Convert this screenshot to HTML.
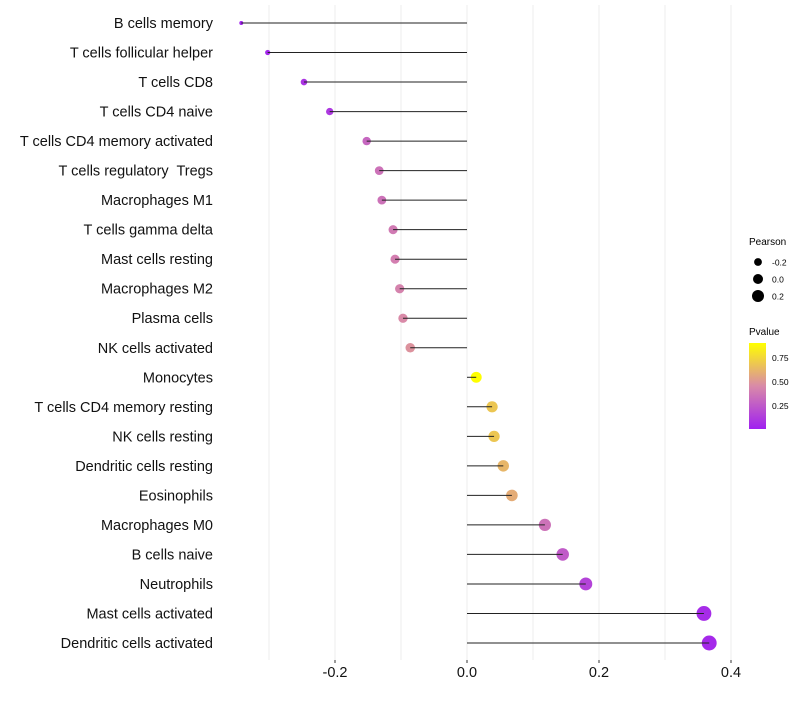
<!DOCTYPE html>
<html><head><meta charset="utf-8"><style>
body{margin:0;background:#fff;font-family:"Liberation Sans",sans-serif}
text{white-space:pre}
</style></head><body>
<svg id="chart" width="800" height="700" xmlns="http://www.w3.org/2000/svg" font-family="Liberation Sans, sans-serif">
<defs><linearGradient id="pg" x1="0" y1="1" x2="0" y2="0">
<stop offset="0" stop-color="#a020f0"/><stop offset="0.5" stop-color="#d98aa8"/><stop offset="1" stop-color="#ffff00"/></linearGradient></defs>
<g id="grid"></g><g id="marks"></g><g id="ylabels"></g><g id="xticks"></g>
<g font-size="10">
<text x="749" y="245">Pearson</text>
<circle cx="758" cy="262" r="3.9" fill="#000"/>
<text x="772" y="265.5" font-size="8.5">-0.2</text>
<circle cx="758" cy="279" r="5" fill="#000"/>
<text x="772" y="282.5" font-size="8.5">0.0</text>
<circle cx="758" cy="296" r="6" fill="#000"/>
<text x="772" y="299.5" font-size="8.5">0.2</text>
<text x="749" y="335">Pvalue</text>
<rect x="749" y="343" width="17" height="86" fill="url(#pg)"/>
<text x="772" y="361" font-size="8.5">0.75</text>
<text x="772" y="385" font-size="8.5">0.50</text>
<text x="772" y="409" font-size="8.5">0.25</text>
</g>
</svg>
<script>
const categories=["B cells memory","T cells follicular helper","T cells CD8","T cells CD4 naive","T cells CD4 memory activated","T cells regulatory  Tregs","Macrophages M1","T cells gamma delta","Mast cells resting","Macrophages M2","Plasma cells","NK cells activated","Monocytes","T cells CD4 memory resting","NK cells resting","Dendritic cells resting","Eosinophils","Macrophages M0","B cells naive","Neutrophils","Mast cells activated","Dendritic cells activated"];
const pearson=[-0.342,-0.302,-0.247,-0.208,-0.152,-0.133,-0.129,-0.112,-0.109,-0.102,-0.097,-0.086,0.014,0.038,0.041,0.055,0.068,0.118,0.145,0.180,0.359,0.367];
const pvalue=[0.01,0.03,0.08,0.1,0.3,0.35,0.35,0.38,0.4,0.42,0.45,0.48,0.9,0.68,0.68,0.62,0.58,0.35,0.25,0.15,0.05,0.04];
const xTicks=[-0.2,0,0.2,0.4];
const xTickLabels=["-0.2","0.0","0.2","0.4"];
const NS="http://www.w3.org/2000/svg";
const x=v=>467+v*660;
const y=i=>23+i*(620/21);
const r=v=>Math.sqrt(Math.max(2,28.8+73*v));
function lerp(a,b,t){return Math.round(a+(b-a)*t);}
function col(p){let t=Math.min(1,Math.max(0,p/0.9));
 const s=[[160,32,240],[217,138,168],[255,255,0]];let a,b,u;
 if(t<0.5){a=s[0];b=s[1];u=t/0.5}else{a=s[1];b=s[2];u=(t-0.5)/0.5}
 return `rgb(${lerp(a[0],b[0],u)},${lerp(a[1],b[1],u)},${lerp(a[2],b[2],u)})`;}
function mk(t,attrs,parent){const e=document.createElementNS(NS,t);for(const k in attrs)e.setAttribute(k,attrs[k]);parent.appendChild(e);return e;}
const grid=document.getElementById('grid'),marks=document.getElementById('marks'),yl=document.getElementById('ylabels'),xt=document.getElementById('xticks');
for(let v=-0.3;v<=0.45;v+=0.1){const g=mk('line',{x1:x(v),x2:x(v),y1:5,y2:660,stroke:'#ececec','stroke-width':1},grid);

}
categories.forEach((c,i)=>{
 const t=mk('text',{x:213,y:y(i)+5,'text-anchor':'end','font-size':14.5,fill:'#111'},yl);t.textContent=c;
 
 
 const p=mk('circle',{cx:x(pearson[i]),cy:y(i),r:r(pearson[i]),fill:col(pvalue[i])},marks);
 
 
 const l=mk('line',{x1:x(0),x2:x(pearson[i]),y1:y(i),y2:y(i),stroke:'#222','stroke-width':1},marks);
 
 
});
xTicks.forEach((v,i)=>{
 const tk=mk('line',{x1:x(v),x2:x(v),y1:660,y2:663,stroke:'#333'},xt);
 
 
 const t=mk('text',{x:x(v),y:677,'text-anchor':'middle','font-size':14.5,fill:'#111'},xt);t.textContent=xTickLabels[i];
 
 
});
</script>
</body></html>
